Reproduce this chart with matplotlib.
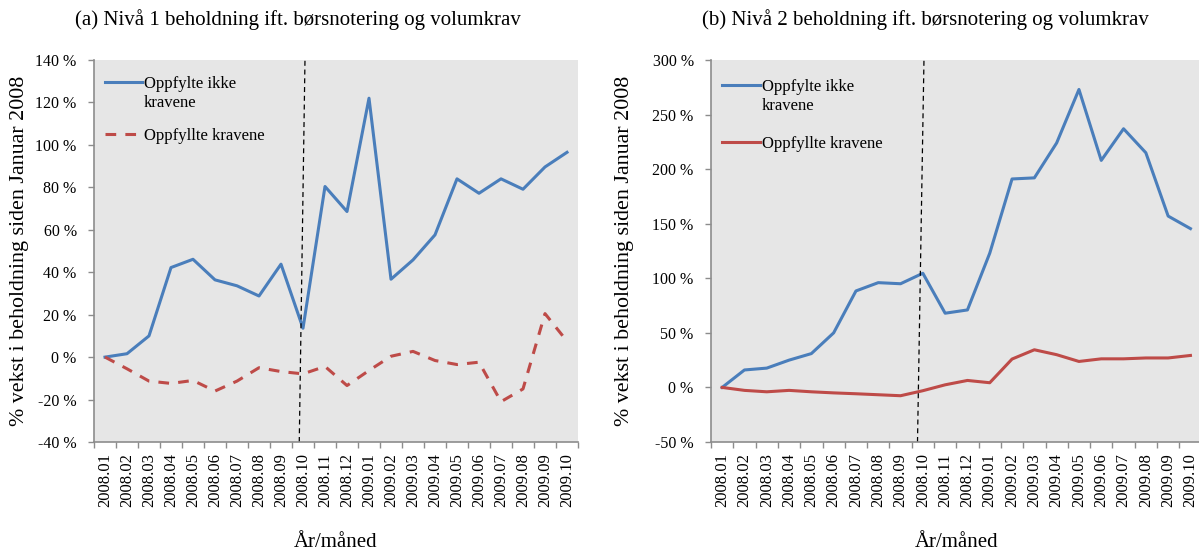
import numpy as np
import matplotlib
matplotlib.use("Agg")
import matplotlib.pyplot as plt
from matplotlib.ticker import FuncFormatter, FixedLocator

plt.rcParams['font.family'] = ['Liberation Serif', 'DejaVu Serif']

# ------------------------------------------------------------------------------
# data
# ------------------------------------------------------------------------------
months = ['2008.01', '2008.02', '2008.03', '2008.04', '2008.05', '2008.06',
          '2008.07', '2008.08', '2008.09', '2008.10', '2008.11', '2008.12',
          '2009.01', '2009.02', '2009.03', '2009.04', '2009.05', '2009.06',
          '2009.07', '2009.08', '2009.09', '2009.10']

# (a) Niva 1
n1_ikke = [0.0, 1.6, 10.0, 42.2, 46.1, 36.4, 33.6, 28.8, 43.8, 13.6, 80.4, 68.6,
           122.0, 36.7, 45.8, 57.6, 84.0, 77.2, 84.0, 79.1, 89.6, 96.5]
n1_krav = [0.0, -5.5, -11.3, -12.4, -11.0, -16.0, -11.3, -5.0, -6.8, -7.9, -4.4, -13.4,
           -6.3, 0.4, 2.7, -1.6, -3.5, -2.4, -21.0, -15.0, 20.5, 7.5]

# (b) Niva 2
n2_ikke = [0.0, 16.0, 17.7, 25.0, 31.0, 50.0, 88.4, 96.0, 95.0, 104.6, 68.0, 71.0,
           123.0, 191.0, 192.0, 224.0, 273.0, 208.0, 237.0, 215.0, 157.0, 145.5]
n2_krav = [0.0, -2.7, -4.0, -2.7, -4.0, -5.0, -5.8, -6.7, -7.6, -3.0, 2.4, 6.4,
           4.3, 26.0, 34.5, 30.0, 23.8, 26.2, 26.2, 27.0, 27.0, 29.3]

ticks_a = [-40, -20, 0, 20, 40, 60, 80, 100, 120, 140]
ticks_b = [-50, 0, 50, 100, 150, 200, 250, 300]

title_a = '(a) Nivå 1 beholdning ift. børsnotering og volumkrav'
title_b = '(b) Nivå 2 beholdning ift. børsnotering og volumkrav'
ylab = '% vekst i beholdning siden Januar 2008'
xlab = 'År/måned'
lab_ikke = 'Oppfylte ikke\nkravene'
lab_krav = 'Oppfyllte kravene'

BLUE = '#4a7ebb'
RED = '#be4b48'
GREY_BG = '#e6e6e6'
AXC = '#8c8c8c'


def style_axis(ax, ticks, ylab_x):
  ax.set_facecolor(GREY_BG)
  ax.spines['top'].set_visible(False)
  ax.spines['right'].set_visible(False)
  ax.spines['left'].set_color(AXC)
  ax.spines['bottom'].set_color(AXC)
  ax.spines['left'].set_linewidth(1.2)
  ax.spines['bottom'].set_linewidth(1.2)
  x = np.arange(len(months))
  ax.set_xlim(-0.5, len(months) - 0.5)
  ax.set_ylim(ticks[0], ticks[-1])
  ax.set_yticks(ticks)
  ax.yaxis.set_major_formatter(FuncFormatter(lambda v, p: f'{v:.0f} %'))
  ax.set_xticks(x)
  ax.set_xticklabels(months, rotation=90, fontsize=12)
  ax.xaxis.set_minor_locator(FixedLocator(np.arange(-0.5, len(months), 1.0)))
  ax.tick_params(axis='x', which='major', length=0, pad=8)
  ax.tick_params(axis='x', which='minor', length=4, color=AXC, width=1)
  ax.tick_params(axis='y', length=4.5, color=AXC, width=1, pad=8, labelsize=11.5)
  ax.set_ylabel(ylab, fontsize=15.8)
  ax.yaxis.set_label_coords(ylab_x, 0.5)
  ax.set_xlabel(xlab, fontsize=15, labelpad=18.5)


# legends: Excel style, line key level with the first text row
def key_legend(ax, items, ys):
  for (color, ls, label), y in zip(items, ys):
    kw = dict(color=color, lw=2.2, transform=ax.transAxes, clip_on=False)
    if ls == '--':
      kw.update(linestyle='--', dashes=(3.5, 3.0))
    ax.plot([0.0227, 0.0992], [y, y], **kw)
    ax.text(0.1035, y + 0.017, label, transform=ax.transAxes, fontsize=12,
            va='top', ha='left', linespacing=1.28)


fig = plt.figure(figsize=(11.99, 5.52), dpi=100)
W, H = 1199.0, 552.0
ax1 = fig.add_axes([94 / W, 1 - 442 / H, 484 / W, 382 / H])
ax2 = fig.add_axes([711 / W, 1 - 442 / H, 490.6 / W, 382 / H])

x = np.arange(len(months))

# (a)
ax1.plot(x, n1_ikke, color=BLUE, lw=2.2)
ax1.plot(x, n1_krav, color=RED, lw=2.2, linestyle='--', dashes=(3.5, 3.0))
ax1.plot([8.83, 9.09], [ticks_a[0], ticks_a[-1]], color='black', lw=0.9,
         linestyle='--', dashes=(4, 3))
style_axis(ax1, ticks_a, -0.134)

# (b)
ax2.plot(x, n2_ikke, color=BLUE, lw=2.2)
ax2.plot(x, n2_krav, color=RED, lw=2.2)
ax2.plot([8.76, 9.05], [ticks_b[0], ticks_b[-1]], color='black', lw=0.9,
         linestyle='--', dashes=(4, 3))
style_axis(ax2, ticks_b, -0.157)

key_legend(ax1, [(BLUE, '-', lab_ikke), (RED, '--', lab_krav)],
           [1 - (82 - 60) / 382, 1 - (134 - 60) / 382])
key_legend(ax2, [(BLUE, '-', lab_ikke), (RED, '-', lab_krav)],
           [1 - (85 - 60) / 382, 1 - (142 - 60) / 382])

fig.text(298 / W, 1 - 20 / H, title_a, ha='center', va='center', fontsize=15)
fig.text(925 / W, 1 - 20 / H, title_b, ha='center', va='center', fontsize=15)

fig.savefig('out.png', dpi=100)
